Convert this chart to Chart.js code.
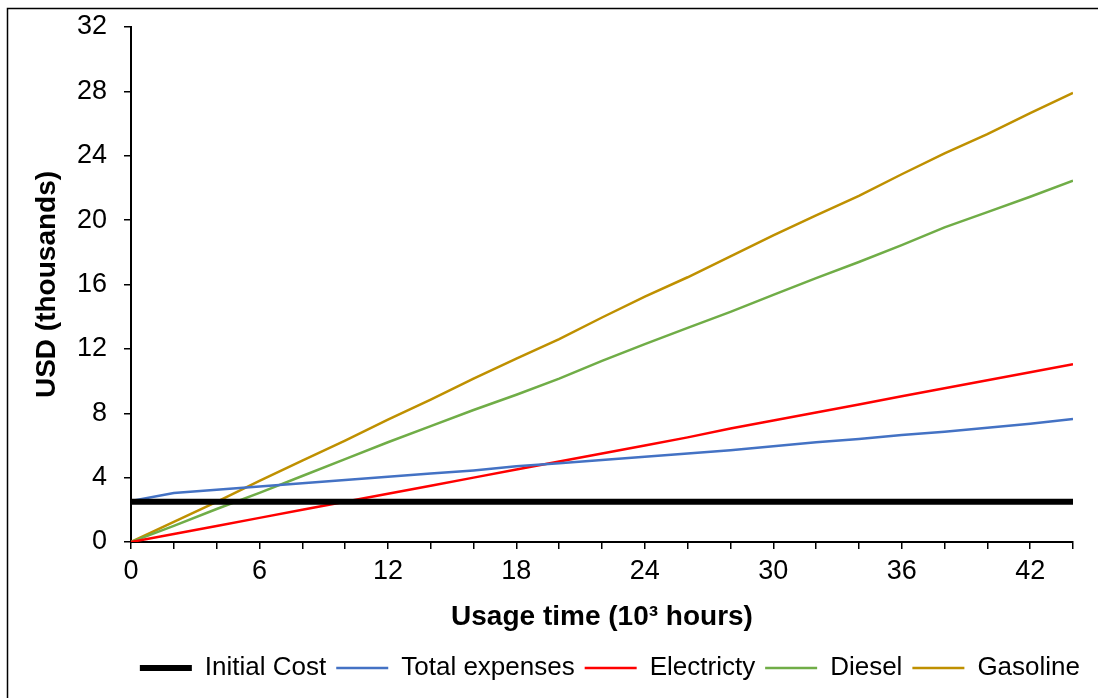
<!DOCTYPE html>
<html>
<head>
<meta charset="utf-8">
<script src="https://cdn.jsdelivr.net/npm/chart.js@4"></script>
<style>
  html, body { margin: 0; padding: 0; background: #fff; }
  #wrap { width: 1098px; height: 698px; position: relative; }
</style>
</head>
<body>
<div id="wrap"><canvas id="myChart" width="1098" height="698"></canvas></div>
<script>
// usage time, thousands of hours
const hours = [0, 2, 4, 6, 8, 10, 12, 14, 16, 18, 20, 22, 24, 26, 28, 30, 32, 34, 36, 38, 40, 42, 44];

// USD, thousands
const initialCost = [2.5, 2.5, 2.5, 2.5, 2.5, 2.5, 2.5, 2.5, 2.5, 2.5, 2.5, 2.5, 2.5, 2.5, 2.5, 2.5, 2.5, 2.5, 2.5, 2.5, 2.5, 2.5, 2.5];
const totalExpenses = [2.55, 3.05, 3.25, 3.45, 3.65, 3.85, 4.05, 4.25, 4.45, 4.7, 4.9, 5.1, 5.3, 5.5, 5.7, 5.95, 6.2, 6.4, 6.65, 6.85, 7.1, 7.35, 7.65];
const electricty = [0, 0.5, 1.0, 1.5, 2.0, 2.5, 3.0, 3.5, 4.0, 4.5, 5.0, 5.5, 6.0, 6.5, 7.05, 7.55, 8.05, 8.55, 9.05, 9.55, 10.05, 10.55, 11.05];
const diesel = [0, 1.0, 2.05, 3.05, 4.1, 5.15, 6.2, 7.2, 8.2, 9.15, 10.15, 11.25, 12.3, 13.3, 14.3, 15.35, 16.4, 17.4, 18.45, 19.55, 20.5, 21.45, 22.45];
const gasoline = [0, 1.25, 2.5, 3.8, 5.05, 6.3, 7.6, 8.85, 10.15, 11.4, 12.6, 13.95, 15.25, 16.45, 17.75, 19.05, 20.3, 21.5, 22.85, 24.15, 25.35, 26.65, 27.9];

const xTickLabels = [0, 6, 12, 18, 24, 30, 36, 42];
const yTickLabels = [0, 4, 8, 12, 16, 20, 24, 28, 32];

const toPoints = (vals) => vals.map((v, i) => ({ x: hours[i], y: v }));

const frame = {
  id: 'outer_frame',
  afterDraw: (chart) => {
    const ctx = chart.ctx;
    ctx.save();
    ctx.strokeStyle = '#000';
    ctx.lineWidth = 1.5;
    ctx.strokeRect(7.5, 8.5, 1300, 900);
    ctx.restore();
  }
};

const series = (label, vals, color, width) => ({
  label: label,
  data: toPoints(vals),
  borderColor: color,
  backgroundColor: color,
  borderWidth: width,
  pointRadius: 0,
  pointHoverRadius: 0,
  tension: 0,
  pointStyle: 'line'
});

const data = {
  datasets: [
    series('Initial Cost', initialCost, '#000000', 6),
    series('Total expenses', totalExpenses, '#4472C4', 2.5),
    series('Electricty', electricty, '#FF0000', 2.5),
    series('Diesel', diesel, '#70AD47', 2.5),
    series('Gasoline', gasoline, '#BF9000', 2.5)
  ]
};

const font = 'Liberation Sans, Arial, sans-serif';

const config = {
  type: 'line',
  data: data,
  options: {
    responsive: false,
    animation: false,
    layout: {
      padding: { left: 0, top: 27, right: 8, bottom: 7 }
    },
    plugins: {
      legend: {
        position: 'bottom',
        align: 'end',
        labels: {
          usePointStyle: true,
          pointStyleWidth: 52,
          boxHeight: 6,
          padding: 10,
          color: '#000',
          font: { family: font, size: 26 }
        }
      },
      tooltip: { enabled: false }
    },
    scales: {
      x: {
        type: 'linear',
        min: 0,
        max: 44,
        afterFit: (scale) => { scale.height = 103; },
        ticks: {
          stepSize: 2,
          autoSkip: false,
          maxRotation: 0,
          padding: 6,
          color: '#000',
          font: { family: font, size: 27 },
          callback: (v) => xTickLabels.includes(v) ? String(v) : ''
        },
        grid: {
          drawOnChartArea: false,
          drawTicks: true,
          tickLength: 7,
          color: '#000',
          lineWidth: 1.5
        },
        border: { color: '#000', width: 2 },
        title: {
          display: true,
          text: 'Usage time (10³ hours)',
          color: '#000',
          font: { family: font, size: 28, weight: 'bold' },
          padding: { top: 0, bottom: 11 }
        }
      },
      y: {
        min: 0,
        max: 32,
        afterFit: (scale) => {
          scale.width = 131;
          scale.paddingTop = 4;
          scale.paddingBottom = 4;
        },
        ticks: {
          stepSize: 4,
          padding: 17,
          color: '#000',
          font: { family: font, size: 27 },
          callback: (v) => yTickLabels.includes(v) ? String(v) : ''
        },
        grid: {
          drawOnChartArea: false,
          drawTicks: true,
          tickLength: 7,
          color: '#000',
          lineWidth: 1.5
        },
        border: { color: '#000', width: 2 },
        title: {
          display: true,
          text: 'USD (thousands)',
          color: '#000',
          font: { family: font, size: 28, weight: 'bold' },
          padding: { top: 30, bottom: 0 }
        }
      },
      // empty right-hand margin so the plot ends where the reference does
      yRight: {
        position: 'right',
        min: 0,
        max: 32,
        afterFit: (scale) => { scale.width = 17; },
        ticks: { display: false },
        grid: { display: false },
        border: { display: false }
      }
    }
  },
  plugins: [frame]
};

new Chart(document.getElementById('myChart'), config);
</script>
</body>
</html>
